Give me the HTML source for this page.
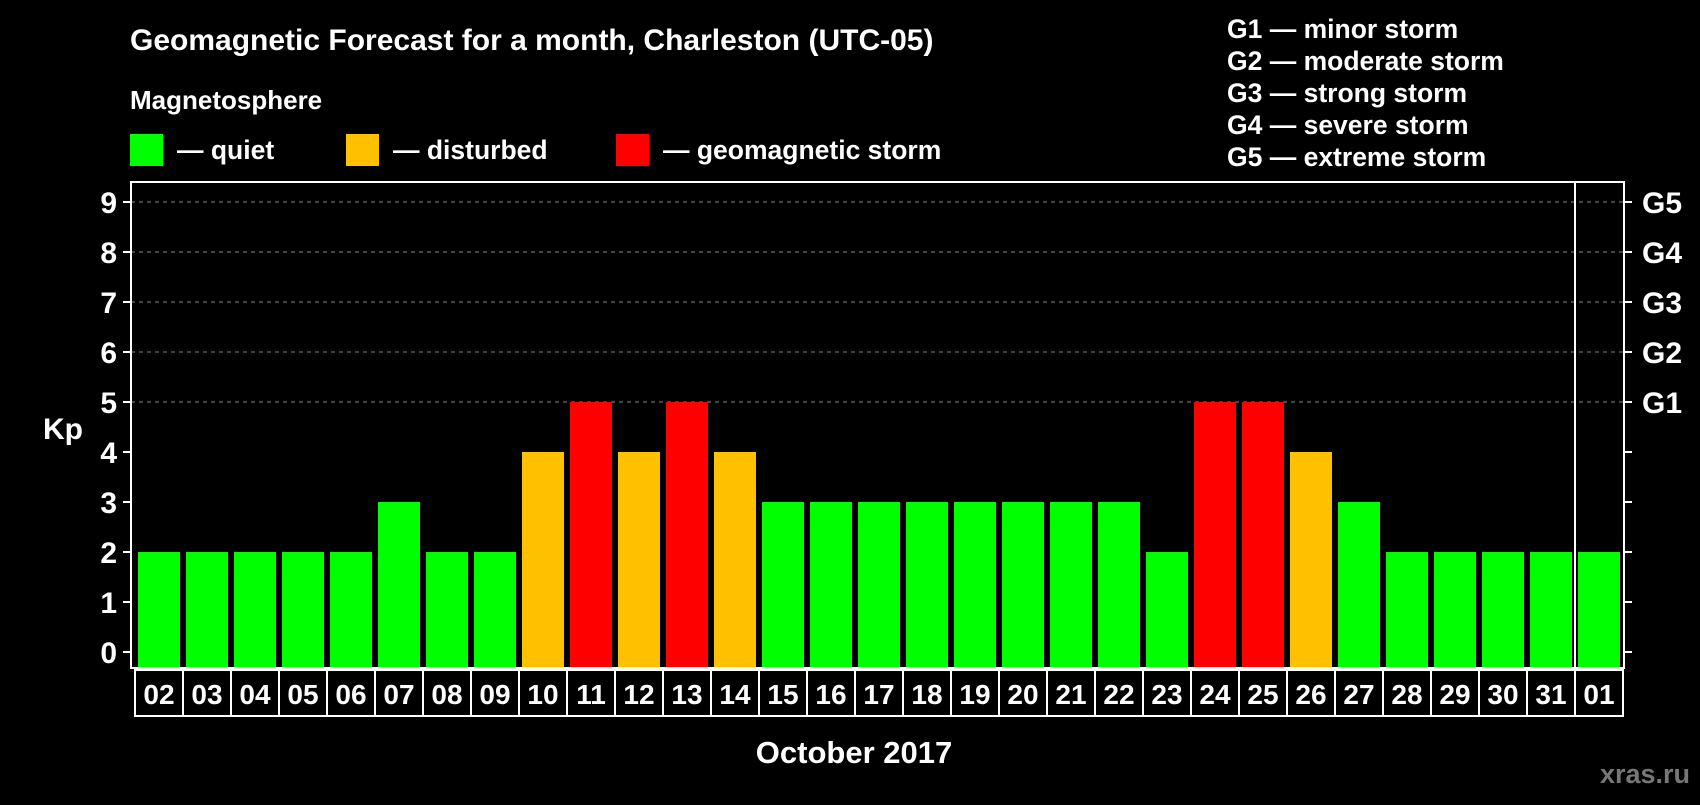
<!DOCTYPE html>
<html><head><meta charset="utf-8"><style>
body{margin:0;background:#000;}
svg text{font-family:"Liberation Sans",Arial,sans-serif;font-weight:bold;fill:#fff;}
</style></head><body>
<svg id="c" width="1700" height="800" viewBox="0 0 1700 800">
<rect width="1700" height="800" fill="#000"/>
<text x="130" y="50" font-size="30">Geomagnetic Forecast for a month, Charleston (UTC-05)</text>
<text x="130" y="109" font-size="26">Magnetosphere</text>
<g><rect x="130" y="134" width="33" height="32" fill="#00ff00"/><text x="177" y="159" font-size="26.5">— quiet</text></g>
<g><rect x="346" y="134" width="33" height="32" fill="#ffc000"/><text x="393" y="159" font-size="26.5">— disturbed</text></g>
<g><rect x="616" y="134" width="33" height="32" fill="#ff0000"/><text x="663" y="159" font-size="26.5">— geomagnetic storm</text></g>
<g font-size="26.5">
<text x="1227" y="38">G1 — minor storm</text>
<text x="1227" y="70">G2 — moderate storm</text>
<text x="1227" y="102">G3 — strong storm</text>
<text x="1227" y="134">G4 — severe storm</text>
<text x="1227" y="166">G5 — extreme storm</text>
</g>
<text x="43" y="439" font-size="30">Kp</text>
<text x="854" y="763" font-size="31" text-anchor="middle">October 2017</text>
<text x="1690" y="783" font-size="27" text-anchor="end" style="fill:#777">xras.ru</text>
<g id="plot"></g>
</svg>
<script>
const days=["02","03","04","05","06","07","08","09","10","11","12","13","14","15","16","17","18","19","20","21","22","23","24","25","26","27","28","29","30","31","01"];
const kp=[2,2,2,2,2,3,2,2,4,5,4,5,4,3,3,3,3,3,3,3,3,2,5,5,4,3,2,2,2,2,2];
const yTicks=[0,1,2,3,4,5,6,7,8,9];
const gLabels=["G1","G2","G3","G4","G5"];
const NS="http://www.w3.org/2000/svg";
const g=document.getElementById('plot');
const L=131,R=1624,T=182,B=668,X0=135,STEP=48;
const y=v=>652-v*50;
const x=i=>X0+i*STEP;
function mk(t,a,p){const e=document.createElementNS(NS,t);for(const k in a)e.setAttribute(k,a[k]);(p||g).appendChild(e);return e;}
yTicks.forEach(v=>{
 if(v>=5){const l=mk('line',{x1:L,x2:R,y1:y(v),y2:y(v),stroke:'#888','stroke-dasharray':'4,4'});
 
 }
 mk('line',{x1:L-8,x2:L,y1:y(v),y2:y(v),stroke:'#fff','stroke-width':2});
 mk('line',{x1:R,x2:R+8,y1:y(v),y2:y(v),stroke:'#fff','stroke-width':2});
 const t=mk('text',{x:L-14,y:y(v)+11,'font-size':30,'text-anchor':'end'});t.textContent=v;
 
 
});
gLabels.forEach((s,i)=>{const t=mk('text',{x:R+18,y:y(5+i)+11,'font-size':30});t.textContent=s;
 
 });
const col=v=>v>=5?'#ff0000':(v>=4?'#ffc000':'#00ff00');
kp.forEach((v,i)=>{
 const b=mk('rect',{x:x(i)+3,y:y(v),width:42,height:B-y(v),fill:col(v)});
 
 
 mk('rect',{x:x(i),y:B+2,width:STEP,height:46,fill:'none',stroke:'#fff','stroke-width':2});
 const t=mk('text',{x:x(i)+STEP/2,y:B+36,'font-size':28,'text-anchor':'middle'});t.textContent=days[i];
 
 
});
const fr=mk('rect',{x:L,y:T,width:R-L,height:B-T,fill:'none',stroke:'#fff','stroke-width':2});


const sep=mk('line',{x1:x(30),x2:x(30),y1:T,y2:B,stroke:'#fff','stroke-width':2});


</script>
</body></html>
